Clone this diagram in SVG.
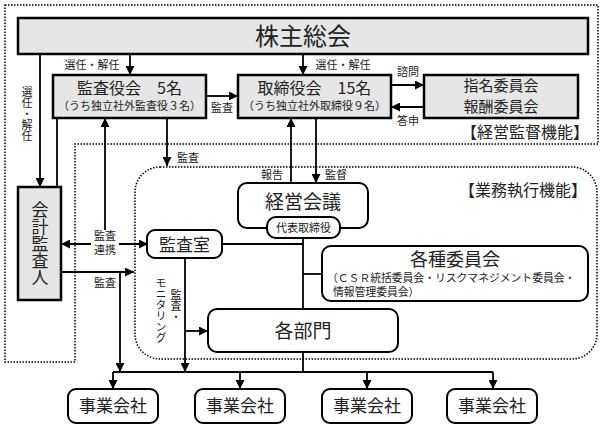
<svg xmlns="http://www.w3.org/2000/svg" width="606" height="429" viewBox="0 0 606 429">
<defs>
<marker id="arr" viewBox="0 0 10 10" refX="10" refY="5" markerWidth="9" markerHeight="9" markerUnits="userSpaceOnUse" orient="auto-start-reverse">
<path d="M0,0 L10,5 L0,10 Z" fill="#000"/>
</marker>
<style>
text{font-family:"Noto Sans CJK JP","Noto Sans",sans-serif;fill:#222;}
.gbox{fill:#e6e6e6;stroke:#000;stroke-width:2.5;}
.rbox{fill:#fff;stroke:#000;stroke-width:2;}
.ln{fill:none;stroke:#000;stroke-width:1.8;}
.ar{fill:none;stroke:#000;stroke-width:1.8;marker-end:url(#arr);}
.dot{fill:none;stroke:#000;stroke-width:1.5;stroke-dasharray:1.5 1.5;}
.lbl{font-size:11px;text-anchor:middle;}
.vt{writing-mode:vertical-rl;}
.c{text-anchor:middle;}
</style>
</defs>
<rect width="606" height="429" fill="#fff"/>

<g id="areas">
<path class="dot" d="M5,5 H598 V144 H75 V362 H5 Z"/>
<rect class="dot" x="135" y="167" width="462" height="192" rx="25"/>
<text x="525" y="138" font-size="16" class="c">【経営監督機能】</text>
<text x="523" y="196" font-size="16" class="c">【業務執行機能】</text>
</g>

<g id="connectors">
<path class="ar" d="M40,54 V187"/>
<path class="ar" d="M130,54 V75"/>
<path class="ar" d="M303,54 V75"/>
<path class="ar" d="M206,96 H238"/>
<path class="ar" d="M391,85 H424"/>
<path class="ar" d="M424,107 H391"/>
<path class="ln" d="M57,118 V187"/>
<path class="ln" d="M61,244 H148" style="marker-start:url(#arr);marker-end:url(#arr)"/>
<path class="ar" d="M105,230 V118"/>
<path class="ar" d="M167,118 V166"/>
<path class="ar" d="M291,183 V118"/>
<path class="ar" d="M316,118 V183"/>
<path class="ln" d="M222,244 H303"/>
<path class="ln" d="M303,238 V372"/>
<path class="ln" d="M303,274 H322"/>
<path class="ar" d="M185,258 V372"/>
<path class="ar" d="M185,331 H208"/>
<path class="ar" d="M61,272 H134"/>
<path class="ar" d="M120,272 V372"/>
<path class="ln" d="M113,372 H493"/>
<path class="ar" d="M113,372 V389"/>
<path class="ar" d="M240,372 V389"/>
<path class="ar" d="M367,372 V389"/>
<path class="ar" d="M493,372 V389"/>
<rect x="91" y="230" width="28" height="27" fill="#fff"/>
<text class="lbl" font-size="10"><tspan x="105" y="240">監査</tspan><tspan x="105" y="254">連携</tspan></text>
<text class="lbl" x="92" y="69">選任・解任</text>
<text class="lbl" x="343" y="69">選任・解任</text>
<text class="lbl vt" x="27" y="114">選任・解任</text>
<text class="lbl" x="222" y="112">監査</text>
<text class="lbl" x="408" y="76">諮問</text>
<text class="lbl" x="408" y="125">答申</text>
<text class="lbl" x="188" y="162">監査</text>
<text class="lbl" x="272" y="179">報告</text>
<text class="lbl" x="336" y="179">監督</text>
<text class="lbl" x="105" y="287">監査</text>
<text class="lbl vt" x="176" y="306">監査・</text>
<text class="lbl vt" x="161" y="310">モニタリング</text>
</g>

<g id="shareholders">
<rect class="gbox" x="18" y="18" width="570" height="36"/>
<text x="303" y="45" font-size="24" class="c">株主総会</text>
</g>

<g id="audit-board">
<rect class="gbox" x="53" y="75" width="153" height="43"/>
<text class="c"><tspan x="129.5" y="94" font-size="16">監査役会　5名</tspan><tspan x="129.5" y="110" font-size="11">（うち独立社外監査役３名）</tspan></text>
</g>

<g id="board">
<rect class="gbox" x="238" y="75" width="153" height="43"/>
<text class="c"><tspan x="314.5" y="94" font-size="16">取締役会　15名</tspan><tspan x="314.5" y="110" font-size="11">（うち独立社外取締役９名）</tspan></text>
</g>

<g id="committees">
<rect class="gbox" x="424" y="75" width="154" height="43"/>
<text class="c" font-size="15"><tspan x="501" y="91">指名委員会</tspan><tspan x="501" y="112">報酬委員会</tspan></text>
</g>

<g id="auditor">
<rect class="gbox" x="18" y="187" width="43" height="113"/>
<text class="vt c" x="40" y="244" font-size="17">会計監査人</text>
</g>

<g id="management-meeting">
<rect class="rbox" x="238" y="183" width="130" height="45" rx="9"/>
<text x="303" y="209" font-size="19" class="c">経営会議</text>
<rect class="rbox" x="267" y="217" width="73" height="21" rx="9"/>
<text x="303.5" y="232" font-size="11" class="c">代表取締役</text>
</g>

<g id="audit-office">
<rect class="rbox" x="147" y="230" width="75" height="28" rx="8"/>
<text x="184.5" y="251" font-size="17" class="c">監査室</text>
</g>

<g id="various-committees">
<rect class="rbox" x="322" y="246" width="266" height="55" rx="9"/>
<text><tspan x="455" y="266" font-size="18" text-anchor="middle">各種委員会</tspan><tspan x="327" y="282" font-size="10.8" text-anchor="start">（ＣＳＲ統括委員会・リスクマネジメント委員会・</tspan><tspan x="333" y="296" font-size="10.8" text-anchor="start">情報管理委員会）</tspan></text>
</g>

<g id="departments">
<rect class="rbox" x="208" y="309" width="190" height="43" rx="9"/>
<text x="303" y="338" font-size="19" class="c">各部門</text>
</g>

<g id="company1">
<rect class="rbox" x="68" y="389" width="90" height="34" rx="8"/>
<text x="113" y="412" font-size="17" class="c">事業会社</text>
</g>
<g id="company2">
<rect class="rbox" x="195" y="389" width="90" height="34" rx="8"/>
<text x="240" y="412" font-size="17" class="c">事業会社</text>
</g>
<g id="company3">
<rect class="rbox" x="322" y="389" width="90" height="34" rx="8"/>
<text x="367" y="412" font-size="17" class="c">事業会社</text>
</g>
<g id="company4">
<rect class="rbox" x="447" y="389" width="90" height="34" rx="8"/>
<text x="492" y="412" font-size="17" class="c">事業会社</text>
</g>
</svg>
